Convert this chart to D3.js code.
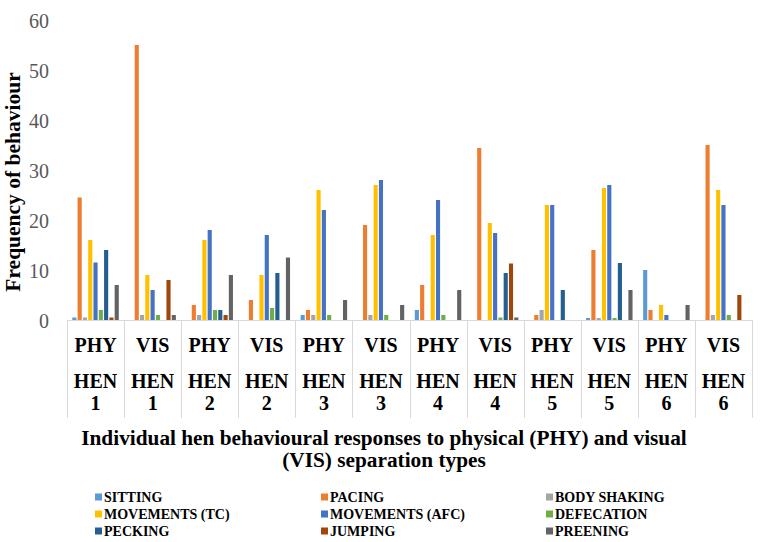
<!DOCTYPE html>
<html><head><meta charset="utf-8">
<script src="https://cdn.jsdelivr.net/npm/d3@7"></script>
<style>body{margin:0;background:#fff}svg{display:block}svg text{font-family:"Liberation Serif","Tinos","Times New Roman","Nimbus Roman","DejaVu Serif",serif !important}</style>
</head><body>
<script>
const groups = ["PHY|HEN|1","VIS|HEN|1","PHY|HEN|2","VIS|HEN|2","PHY|HEN|3","VIS|HEN|3","PHY|HEN|4","VIS|HEN|4","PHY|HEN|5","VIS|HEN|5","PHY|HEN|6","VIS|HEN|6"];
const seriesNames = ["SITTING","PACING","BODY SHAKING","MOVEMENTS (TC)","MOVEMENTS (AFC)","DEFECATION","PECKING","JUMPING","PREENING"];
const colors = ["#5B9BD5","#ED7D31","#A5A5A5","#FFC000","#4472C4","#70AD47","#255E91","#9E480E","#636363"];
const sitting     = [0.5, 0,   0,  0,   1,  0,  2,   0,    0,  0.4, 10, 0];
const pacing      = [24.5,55,  3,  4,   2,  19, 7,   34.4, 1,  14,  2,  35];
const bodyShaking = [0.5, 1,   1,  0,   1,  1,  0,   0,    2,  0.4, 0,  1];
const movTC       = [16,  9,   16, 9,   26, 27, 17,  19.4, 23, 26.4,3,  26];
const movAFC      = [11.5,6,   18, 17,  22, 28, 24,  17.4, 23, 27,  1,  23];
const defecation  = [2,   1,   2,  2.4, 1,  1,  1,   0.5,  0,  0.4, 0,  1];
const pecking     = [14,  0,   2,  9.4, 0,  0,  0,   9.4,  6,  11.4,0,  0];
const jumping     = [0.5, 8,   1,  0,   0,  0,  0,   11.3, 0,  0,   0,  5];
const preening    = [7,   1,   9,  12.5,4,  3,  6,   0.5,  0,  6,   3,  0];
const series = [sitting,pacing,bodyShaking,movTC,movAFC,defecation,pecking,jumping,preening];
const yTicks = [0,10,20,30,40,50,60];

const W=767,H=542;
const svg=d3.select("body").append("svg").attr("width",W).attr("height",H);
const x0=d3.scaleBand().domain(groups).range([67,752]).padding(0);
const x1=d3.scaleBand().domain(d3.range(9)).range([0,x0.bandwidth()]).paddingInner(0.22).paddingOuter(1);
const y=d3.scaleLinear().domain([0,60]).range([320,20]);

groups.forEach((g,gi)=>{
  const gg=svg.append("g").attr("transform",`translate(${x0(g)},0)`);
  series.forEach((s,si)=>{
    gg.append("rect").attr("x",x1(si)).attr("width",x1.bandwidth())
      .attr("y",y(s[gi])).attr("height",y(0)-y(s[gi])).attr("fill",colors[si]);
  });
});

const ya=svg.append("g").attr("transform","translate(49,0)")
  .call(d3.axisLeft(y).tickValues(yTicks).tickSize(0).tickPadding(0));
ya.select(".domain").remove();
ya.attr("font-family",null);
ya.selectAll("text").attr("font-size",20).attr("fill","#595959").attr("dy","0.36em");

svg.append("line").attr("x1",67).attr("x2",752).attr("y1",320.5).attr("y2",320.5).attr("stroke","#d9d9d9");
const bounds=groups.map(g=>x0(g)).concat([752]);
svg.selectAll(".sep").data(bounds).enter().append("line")
  .attr("x1",d=>Math.round(d)+0.5).attr("x2",d=>Math.round(d)+0.5).attr("y1",320).attr("y2",418).attr("stroke","#d9d9d9");

groups.forEach(g=>{
  const [a,b,c]=g.split("|");
  const cx=x0(g)+x0.bandwidth()/2;
  const t=svg.append("g").attr("font-weight","bold").attr("font-size",20).attr("text-anchor","middle").attr("fill","#000");
  t.append("text").attr("x",cx).attr("y",352).text(a);
  t.append("text").attr("x",cx).attr("y",388).text(b);
  t.append("text").attr("x",cx).attr("y",410).text(c);
});

svg.append("text").attr("transform","translate(20,182) rotate(-90)").attr("text-anchor","middle")
  .attr("font-weight","bold").attr("font-size",21.5).text("Frequency of behaviour");
const xt=svg.append("g").attr("font-weight","bold").attr("font-size",21.3).attr("text-anchor","middle");
xt.append("text").attr("x",384).attr("y",445).text("Individual hen behavioural responses to physical (PHY) and visual");
xt.append("text").attr("x",384).attr("y",467).text("(VIS) separation types");

const colX=[95,321,546], rowY=[497,514,531];
seriesNames.forEach((n,i)=>{
  const cx=colX[i%3], cy=rowY[Math.floor(i/3)];
  svg.append("rect").attr("x",cx).attr("y",cy-3.5).attr("width",7).attr("height",7).attr("fill",colors[i]);
  svg.append("text").attr("x",cx+9).attr("y",cy+5).attr("font-size",14).attr("font-weight","bold").attr("fill","#000").text(n);
});
</script>
</body></html>
